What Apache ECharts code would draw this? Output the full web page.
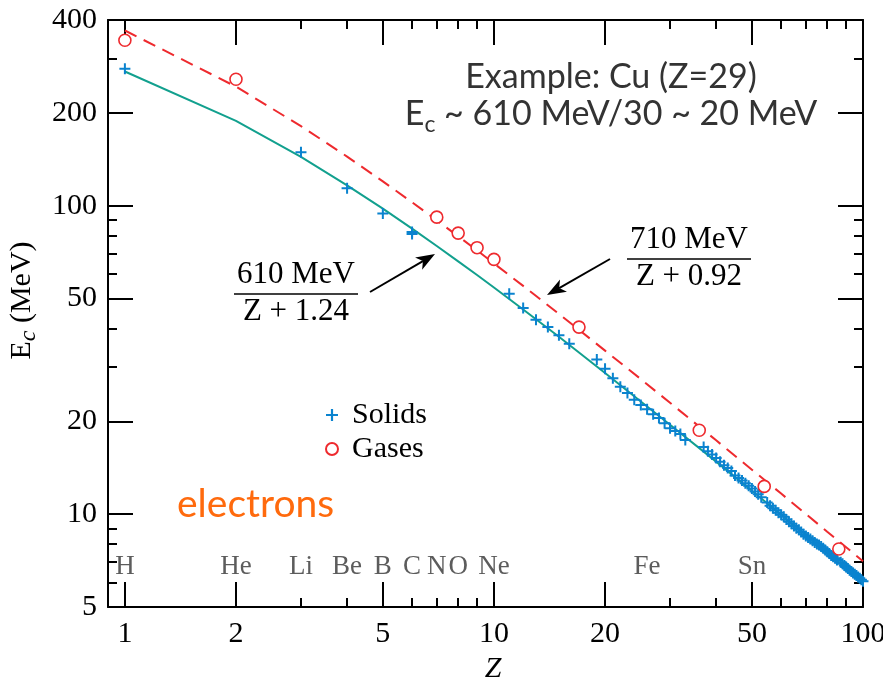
<!DOCTYPE html>
<html>
<head>
<meta charset="utf-8">
<script src="https://cdn.jsdelivr.net/npm/echarts@6/dist/echarts.min.js"></script>
<style>
  html, body { margin: 0; padding: 0; background: #fff; }
  #chart { width: 883px; height: 678px; }
</style>
</head>
<body>
<div id="chart"></div>
<script>
// Critical energy of electrons vs atomic number Z (MeV)
const solidZ = [1, 3, 4, 5, 6, 6, 11, 12, 13, 14, 15, 16,
  19, 20, 21, 22, 23, 24, 25, 26, 27, 28, 29, 30, 31, 32, 33,
  37, 38, 39, 40, 41, 42, 43, 44, 45, 46, 47, 48, 49, 50, 51, 52, 53,
  55, 56, 57, 58, 59, 60, 61, 62, 63, 64, 65, 66, 67, 68, 69, 70,
  71, 72, 73, 74, 75, 76, 77, 78, 79, 80, 81, 82, 83, 84, 85,
  87, 88, 89, 90, 91, 92, 93, 94, 95, 96, 97, 98, 99, 100];
const solidEc = [278, 149, 113.9, 94.3, 82.2, 81.0, 51.8, 46.6, 42.7, 40.4, 38.0, 35.7,
  31.7, 29.6, 27.6, 25.9, 24.7, 23.5, 22.6, 21.9, 21.1, 20.5, 19.7, 19.0, 18.6, 18.2, 17.4,
  16.5, 16.0, 15.6, 15.2, 14.8, 14.4, 14.1, 13.8, 13.35, 13.1, 12.85, 12.6, 12.35, 12.1, 11.85, 11.6, 11.35,
  10.9, 10.65, 10.45, 10.3, 10.1, 9.95, 9.8, 9.6, 9.45, 9.3, 9.15, 9.0, 8.9, 8.75, 8.6, 8.5,
  8.4, 8.3, 8.2, 8.1, 8.0, 7.95, 7.85, 7.75, 7.65, 7.55, 7.45, 7.35, 7.28, 7.2, 7.1,
  6.98, 6.9, 6.82, 6.74, 6.66, 6.58, 6.52, 6.45, 6.38, 6.32, 6.26, 6.2, 6.13, 6.06];

const gasZ = [1, 2, 7, 8, 9, 10, 17, 36, 54, 86];
const gasEc = [344, 257, 91.8, 81.5, 73.1, 67.0, 40.4, 18.7, 12.3, 7.71];

// Fitted curves: 610 MeV/(Z+1.24) for solids, 710 MeV/(Z+0.92) for gases
const fitZ = [1, 2, 3, 4, 5, 6, 7, 8, 9, 10, 12, 15, 20, 25, 30, 40, 50, 60, 70, 80, 90, 100];
const fitSolidEc = [272.3, 188.3, 143.9, 116.4, 97.8, 84.3, 74.0, 66.0, 59.6, 54.3, 46.1, 37.6,
  28.7, 23.2, 19.5, 14.8, 11.9, 9.96, 8.56, 7.51, 6.69, 6.03];
const fitGasEc = [369.8, 243.2, 181.1, 144.3, 119.9, 102.6, 89.6, 79.6, 71.6, 65.0, 54.95, 44.6,
  33.9, 27.4, 22.96, 17.35, 13.94, 11.66, 10.01, 8.77, 7.81, 7.04];

const elementNames = ['H', 'He', 'Li', 'Be', 'B', 'C', 'N', 'O', 'Ne', 'Fe', 'Sn'];
const elementZ = [1, 2, 3, 4, 5, 6, 7, 8, 10, 26, 50];

const xMajorTicks = [1, 2, 5, 10, 20, 50, 100];
const xMinorTicks = [3, 4, 6, 7, 8, 9, 30, 40, 60, 70, 80, 90];
const yMajorTicks = [5, 10, 20, 50, 100, 200, 400];
const yMinorTicks = [6, 7, 8, 9, 30, 40, 60, 70, 80, 90, 300];

const SERIF = '"Liberation Serif", "Times New Roman", serif';
const SANS = 'Lato, "Open Sans", sans-serif';
const CROSS = 'path://M4.5,0H6.5V4.5H11V6.5H6.5V11H4.5V6.5H0V4.5H4.5Z';
const BLUE = '#0a83cf';
const RED = '#ee2a2e';
const TEAL = '#12a08e';

const chart = echarts.init(document.getElementById('chart'), null, { renderer: 'canvas' });

function axisDef(kind, position, ticks, tickLen, main) {
  const base = kind === 'x'
    ? { type: 'log', logBase: 10, min: 0.9, max: 100 }
    : { type: 'log', logBase: 10, min: 5, max: 400 };
  return Object.assign(base, {
    gridIndex: 0,
    position: position,
    offset: 0,
    axisLine: { show: main, onZero: false, lineStyle: { color: '#000', width: 2 } },
    axisTick: { show: true, inside: true, length: tickLen, customValues: ticks,
      lineStyle: { color: '#000', width: 2 } },
    axisLabel: {
      show: main && (position === 'bottom' || position === 'left'),
      customValues: ticks,
      fontFamily: SERIF, fontSize: 30, color: '#000',
      margin: kind === 'x' ? 12 : 11
    },
    splitLine: { show: false },
    minorTick: { show: false },
    minorSplitLine: { show: false }
  });
}

const xAxes = [
  axisDef('x', 'bottom', xMajorTicks, 25, true),
  axisDef('x', 'bottom', xMinorTicks, 9, false),
  axisDef('x', 'top', xMajorTicks, 25, true),
  axisDef('x', 'top', xMinorTicks, 9, false)
];
xAxes[0].name = 'Z';
xAxes[0].nameLocation = 'middle';
xAxes[0].nameGap = 46;
xAxes[0].nameTextStyle = { fontFamily: SERIF, fontStyle: 'italic', fontSize: 30, color: '#000', padding: [0, 0, 0, 15] };

const yAxes = [
  axisDef('y', 'left', yMajorTicks, 25, true),
  axisDef('y', 'left', yMinorTicks, 9, false),
  axisDef('y', 'right', yMajorTicks, 25, true),
  axisDef('y', 'right', yMinorTicks, 9, false)
];
yAxes[0].name = '{e|E}{c|c}{e| (MeV)}';
yAxes[0].nameLocation = 'middle';
yAxes[0].nameGap = 59;
yAxes[0].nameTextStyle = {
  color: '#000',
  padding: [0, 0, 0, 26],
  rich: {
    e: { fontFamily: SERIF, fontSize: 30, lineHeight: 30, verticalAlign: 'top', color: '#000' },
    c: { fontFamily: SERIF, fontSize: 24, fontStyle: 'italic', lineHeight: 24, padding: [10, 0, 0, 0], verticalAlign: 'top', color: '#000' }
  }
};

function zip(a, b) { return a.map((v, i) => [v, b[i]]); }

// Arrow helper: shaft plus filled head ending at (x2, y2)
function arrow(x1, y1, x2, y2) {
  const ang = Math.atan2(y2 - y1, x2 - x1);
  const L = 19, W = 7;
  const bx = x2 - L * Math.cos(ang), by = y2 - L * Math.sin(ang);
  const nx = -Math.sin(ang), ny = Math.cos(ang);
  const inset = 5;
  const ix = x2 - (L - inset) * Math.cos(ang), iy = y2 - (L - inset) * Math.sin(ang);
  return [
    { type: 'line', shape: { x1: x1, y1: y1, x2: ix, y2: iy }, style: { stroke: '#000', lineWidth: 2 } },
    { type: 'polygon', shape: { points: [[x2, y2], [bx + nx * W, by + ny * W], [ix, iy], [bx - nx * W, by - ny * W]] },
      style: { fill: '#000' } }
  ];
}

function fraction(cx, topText, bottomText, barY, halfWidth) {
  return [
    { type: 'text', x: cx, y: barY - 4, style: { text: topText, fontFamily: SERIF, fontSize: 31, fill: '#000', align: 'center', verticalAlign: 'bottom' } },
    { type: 'line', shape: { x1: cx - halfWidth, y1: barY, x2: cx + halfWidth, y2: barY }, style: { stroke: '#000', lineWidth: 1.5 } },
    { type: 'text', x: cx, y: barY + 2, style: { text: bottomText, fontFamily: SERIF, fontSize: 31, fill: '#000', align: 'center', verticalAlign: 'top' } }
  ];
}

const graphics = [].concat(
  fraction(296, '610 MeV', 'Z + 1.24', 294, 62),
  arrow(370, 292, 435, 254),
  fraction(689, '710 MeV', 'Z + 0.92', 259, 62),
  arrow(610, 259, 547, 295),
  [
    { type: 'text', x: 611, y: 77, style: { text: 'Example: Cu (Z=29)', fontFamily: SANS, fontSize: 34, fill: '#333', align: 'center', verticalAlign: 'middle' } },
    { type: 'text', x: 611, y: 114, style: {
        text: '{a|E}{s|c}{a| ~ 610 MeV/30 ~ 20 MeV}',
        align: 'center', verticalAlign: 'middle',
        rich: {
          a: { fontFamily: SANS, fontSize: 34, lineHeight: 34, verticalAlign: 'top', fill: '#333' },
          s: { fontFamily: SANS, fontSize: 23, lineHeight: 23, padding: [16, 0, 0, 0], verticalAlign: 'top', fill: '#333' }
        } } },
    { type: 'text', x: 177, y: 504, style: { text: 'electrons', fontFamily: SANS, fontSize: 39, fill: '#ff6a0d', align: 'left', verticalAlign: 'middle' } }
  ]
);

const option = {
  animation: false,
  backgroundColor: '#fff',
  textStyle: { fontFamily: SERIF },
  grid: { left: 108, top: 20, right: 20, bottom: 71, containLabel: false, outerBoundsMode: 'none' },
  xAxis: xAxes,
  yAxis: yAxes,
  legend: {
    orient: 'vertical',
    left: 325, top: 400, padding: 0,
    itemWidth: 12, itemHeight: 12, itemGap: 4,
    selectedMode: false,
    textStyle: {
      fontFamily: SERIF, fontSize: 30, lineHeight: 30, color: '#000',
      rich: { t: { fontFamily: SERIF, fontSize: 30, lineHeight: 30, color: '#000', padding: [0, 0, 0, 9] } }
    },
    data: [
      { name: 'Solids', icon: CROSS },
      { name: 'Gases', icon: 'circle' }
    ],
    formatter: name => '{t|' + name + '}'
  },
  graphic: graphics,
  series: [
    {
      name: 'fit solids', type: 'line', xAxisIndex: 0, yAxisIndex: 0,
      data: zip(fitZ, fitSolidEc), showSymbol: false, silent: true,
      lineStyle: { color: TEAL, width: 2 }, z: 2
    },
    {
      name: 'fit gases', type: 'line', xAxisIndex: 0, yAxisIndex: 0,
      data: zip(fitZ, fitGasEc), showSymbol: false, silent: true,
      lineStyle: { color: RED, width: 2, type: [13, 8] }, z: 2
    },
    {
      name: 'Solids', type: 'scatter', xAxisIndex: 0, yAxisIndex: 0,
      data: zip(solidZ, solidEc), symbol: CROSS, symbolSize: 11,
      itemStyle: { color: BLUE, opacity: 1 }, z: 3
    },
    {
      name: 'Gases', type: 'scatter', xAxisIndex: 0, yAxisIndex: 0,
      data: zip(gasZ, gasEc), symbol: 'circle', symbolSize: 12,
      itemStyle: { color: '#fff', borderColor: RED, borderWidth: 1.6, opacity: 1 }, z: 4
    },
    {
      name: 'elements', type: 'scatter', xAxisIndex: 0, yAxisIndex: 0,
      data: elementZ.map((z, i) => ({ value: [z, 6.75], name: elementNames[i] })),
      symbolSize: 0, silent: true,
      label: { show: true, position: 'inside', formatter: p => p.name,
        fontFamily: SERIF, fontSize: 27, color: '#333' },
      z: 5
    }
  ]
};

chart.setOption(option);
</script>
</body>
</html>
